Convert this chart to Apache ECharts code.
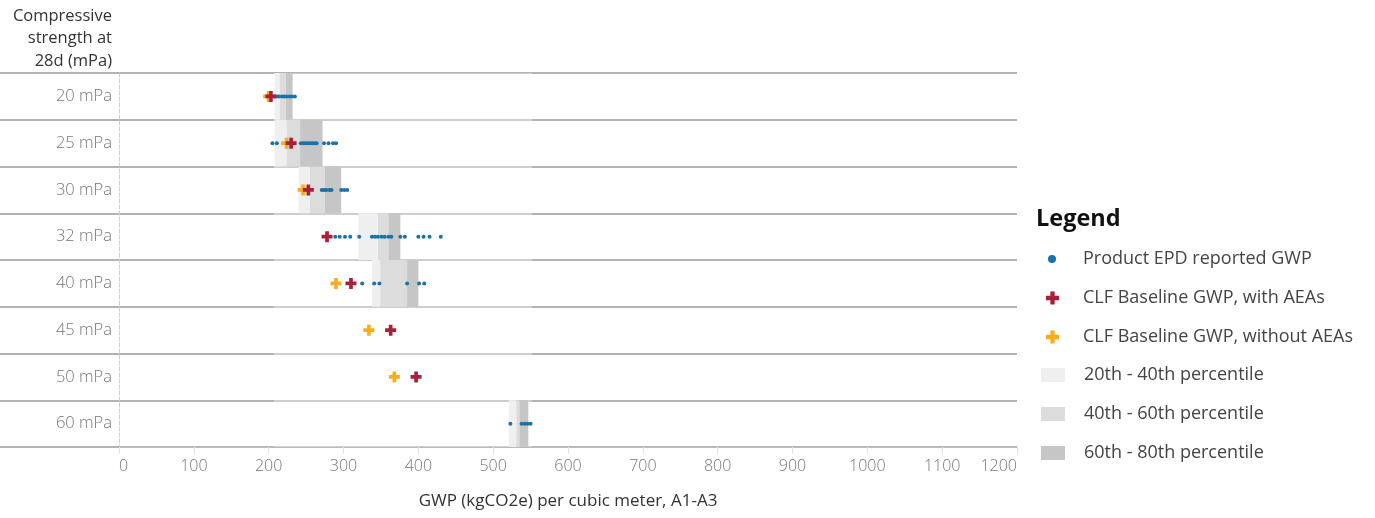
<!DOCTYPE html>
<html>
<head>
<meta charset="utf-8">
<script src="https://cdn.jsdelivr.net/npm/echarts@6/dist/echarts.min.js"></script>
<style>
html,body{margin:0;padding:0;background:#fff;}
#chart{width:1375px;height:518px;}
</style>
</head>
<body>
<div id="chart"></div>
<script>
// ---- data ----
const categories = ['20 mPa','25 mPa','30 mPa','32 mPa','40 mPa','45 mPa','50 mPa','60 mPa'];
const p20 = [208, 208, 240, 320, 338, null, null, 521];
const p40 = [215, 224, 255, 346, 349, null, null, 531];
const p60 = [223, 242, 275, 360, 385, null, null, 535];
const p80 = [232, 272, 297, 376, 400, null, null, 547];
const clfWithAEAs    = [203, 230, 253, 278, 310, 363, 397, null];
const clfWithoutAEAs = [200, 224, 246, null, 290, 334, 368, null];
const epd20 = [208, 211, 214, 218, 221, 224, 228, 231, 235];
const epd25 = [205, 211, 243, 246, 249, 252, 255, 258, 261, 264, 274, 280, 286, 290];
const epd30 = [271, 274, 277, 281, 284, 297, 301, 305];
const epd32 = [289, 295, 302, 309, 321, 338, 342, 346, 351, 355, 360, 364, 376, 382, 400, 407, 415, 430];
const epd40 = [325, 341, 348, 385, 401, 408];
const epd45 = [];
const epd50 = [];
const epd60 = [523, 538, 542, 546, 550];
const epdRows = [epd20, epd25, epd30, epd32, epd40, epd45, epd50, epd60];
const overlayRange = [207, 552];
const xTicks = {min: 0, max: 1200, interval: 100};

// ---- build ----
const FONT = "'Open Sans', 'Noto Sans', sans-serif";
const PLUS = 'path://M4,0H8V4H12V8H8V12H4V8H0V4H4Z';
const BLUE = '#1a72a8', RED = '#a8203c', ORANGE = '#f8ad1c';

const epdData = [];
epdRows.forEach((row, i) => row.forEach(v => epdData.push([v, categories[i]])));
const toPts = arr => arr.map((v, i) => v == null ? null : [v, categories[i]]).filter(Boolean);
const diff = (a, b) => a.map((v, i) => (v == null || b[i] == null) ? '-' : +(v - b[i]).toFixed(2));

const bandBase = {type: 'bar', stack: 'band', barWidth: '100%', silent: true, z: 2};
const legendText = {color: '#444', fontSize: 18, lineHeight: 20, fontFamily: FONT};

const chart = echarts.init(document.getElementById('chart'));
chart.setOption({
  animation: false,
  textStyle: {fontFamily: FONT},
  grid: {left: 119, right: 358, top: 73, bottom: 71, containLabel: false},
  xAxis: {
    type: 'value', min: xTicks.min, max: xTicks.max, interval: xTicks.interval,
    name: 'GWP (kgCO2e) per cubic meter, A1-A3', nameLocation: 'middle', nameGap: 46,
    nameTextStyle: {color: '#333', fontSize: 17, fontFamily: FONT},
    axisLine: {show: true, lineStyle: {color: '#bdbdbd', width: 1.5}},
    axisTick: {show: true, length: 7, lineStyle: {color: '#e2e2e2'}},
    axisLabel: {color: '#777', fontSize: 16, margin: 11, fontWeight: 300, fontFamily: FONT,
                formatter: v => String(v),
                alignMinLabel: 'left', alignMaxLabel: 'right'},
    splitLine: {show: false}
  },
  yAxis: {
    type: 'category', data: categories, inverse: true,
    axisLine: {show: true, onZero: false, lineStyle: {color: '#cfcfcf', type: 'dashed', width: 1}},
    axisTick: {show: true, length: 119, lineStyle: {color: '#9a9a9a', width: 1.5}},
    axisLabel: {color: '#777', fontSize: 16.5, margin: 7, fontWeight: 300, fontFamily: FONT},
    splitLine: {show: true, lineStyle: {color: '#9a9a9a', width: 1.5}}
  },
  legend: [
    {left: 1043, top: 244, orient: 'vertical', itemWidth: 8, itemHeight: 8, itemGap: 19,
     data: [{name: 'Product EPD reported GWP', icon: 'circle'}],
     textStyle: Object.assign({padding: [0, 0, 0, 22]}, legendText), selectedMode: false},
    {left: 1041, top: 283, orient: 'vertical', itemWidth: 13, itemHeight: 13, itemGap: 19,
     data: [{name: 'CLF Baseline GWP, with AEAs', icon: PLUS}, {name: 'CLF Baseline GWP, without AEAs', icon: PLUS}],
     textStyle: Object.assign({padding: [0, 0, 0, 19]}, legendText), selectedMode: false},
    {left: 1036, top: 360, orient: 'vertical', itemWidth: 24, itemHeight: 14, itemGap: 19,
     data: [{name: '20th - 40th percentile', icon: 'rect'}, {name: '40th - 60th percentile', icon: 'rect'}, {name: '60th - 80th percentile', icon: 'rect'}],
     textStyle: Object.assign({padding: [0, 0, 0, 14]}, legendText), selectedMode: false}
  ],
  graphic: [
    {type: 'text', x: 112, y: 5,
     style: {text: 'Compressive\nstrength at\n28d (mPa)', textAlign: 'right', align: 'right', fill: '#333', fontSize: 16.5, lineHeight: 22.5, fontFamily: FONT}},
    {type: 'text', left: 1036, top: 207,
     style: {text: 'Legend', fill: '#111', fontSize: 23.5, fontWeight: 'bold', fontFamily: FONT}}
  ],
  series: [
    {name: 'overlay', type: 'scatter', data: [], z: 1, silent: true,
     markArea: {silent: true, itemStyle: {color: 'rgba(255,255,255,0.35)'},
                data: [[{xAxis: overlayRange[0]}, {xAxis: overlayRange[1]}]]}},
    Object.assign({}, bandBase, {name: 'base', data: p20.map(v => v == null ? '-' : v), itemStyle: {color: 'transparent'}}),
    Object.assign({}, bandBase, {name: '20th - 40th percentile', data: diff(p40, p20), itemStyle: {color: '#efefef'}}),
    Object.assign({}, bandBase, {name: '40th - 60th percentile', data: diff(p60, p40), itemStyle: {color: '#dcdcdc'}}),
    Object.assign({}, bandBase, {name: '60th - 80th percentile', data: diff(p80, p60), itemStyle: {color: '#c6c6c6'}}),
    {name: 'Product EPD reported GWP', type: 'scatter', data: epdData, symbol: 'circle', symbolSize: 4,
     itemStyle: {color: BLUE, opacity: 1}, z: 5},
    {name: 'CLF Baseline GWP, without AEAs', type: 'scatter', data: toPts(clfWithoutAEAs), symbol: PLUS, symbolSize: 11,
     itemStyle: {color: ORANGE, opacity: 1}, z: 6},
    {name: 'CLF Baseline GWP, with AEAs', type: 'scatter', data: toPts(clfWithAEAs), symbol: PLUS, symbolSize: 11,
     itemStyle: {color: RED, opacity: 1}, z: 7}
  ]
});
</script>
</body>
</html>
